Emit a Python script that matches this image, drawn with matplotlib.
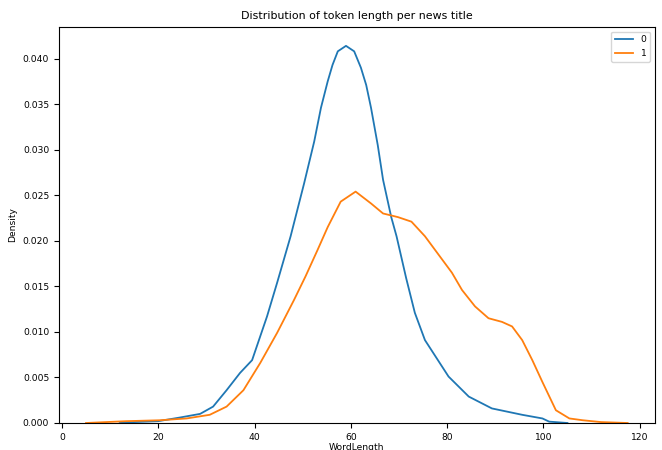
import matplotlib
matplotlib.use("Agg")
import matplotlib.pyplot as plt

# KDE curves (WordLength, Density)
x_0 = [12, 15, 20, 24.5, 28.7, 31.4, 34.2, 37.0, 39.5, 42.6, 44.7, 47.5, 50.3,
       52.4, 53.8, 55.2, 56.2, 57.3, 59.0, 60.7, 62.1, 63.2, 64.2, 65.6, 66.7,
       68.4, 69.5, 71.5, 73.3, 75.4, 80.3, 84.5, 89.3, 95.6, 99.8, 101.2, 105]
dens_0 = [0.0000, 0.0001, 0.0002, 0.0006, 0.0010, 0.0018, 0.0036, 0.0055, 0.0069,
          0.0117, 0.0154, 0.0205, 0.0263, 0.0309, 0.0346, 0.0375, 0.0393, 0.0408,
          0.0414, 0.0408, 0.0390, 0.0371, 0.0346, 0.0305, 0.0267, 0.0226, 0.0205,
          0.0159, 0.0121, 0.0091, 0.0051, 0.0029, 0.0016, 0.0009, 0.0005, 0.00015,
          0.0000]

x_1 = [5, 13.3, 20.3, 25.9, 30.7, 34.2, 37.7, 41.2, 44.7, 48.2, 50.6, 53.1, 55.2,
       57.9, 61.0, 64.2, 66.7, 69.8, 72.6, 75.4, 81.0, 83.1, 85.8, 88.6, 91.4,
       93.5, 95.6, 97.7, 99.8, 102.6, 105.4, 108.2, 112, 117.5]
dens_1 = [0.0000, 0.0002, 0.0003, 0.0005, 0.0009, 0.0018, 0.0036, 0.0066, 0.0099,
          0.0135, 0.0161, 0.0190, 0.0215, 0.0243, 0.0254, 0.0241, 0.0230, 0.0226,
          0.0221, 0.0205, 0.0165, 0.0146, 0.0128, 0.0115, 0.0111, 0.0106, 0.0091,
          0.0069, 0.0045, 0.0014, 0.0005, 0.0003, 0.0001, 0.0000]

labels = ["0", "1"]

plt.rcParams["font.size"] = 6.6
fig = plt.figure(figsize=(6.62, 4.5), dpi=100)
ax = fig.add_axes([0.089, 0.06, 0.9, 0.88])

ax.plot(x_0, dens_0, color="#1f77b4", lw=1.3, label=labels[0])
ax.plot(x_1, dens_1, color="#ff7f0e", lw=1.3, label=labels[1])

ax.set_ylim(0, None)
ax.set_title("Distribution of token length per news title")
ax.set_xlabel("WordLength", labelpad=1)
ax.set_ylabel("Density")
ax.legend(loc="upper right")

fig.savefig("out.png", dpi=100)
